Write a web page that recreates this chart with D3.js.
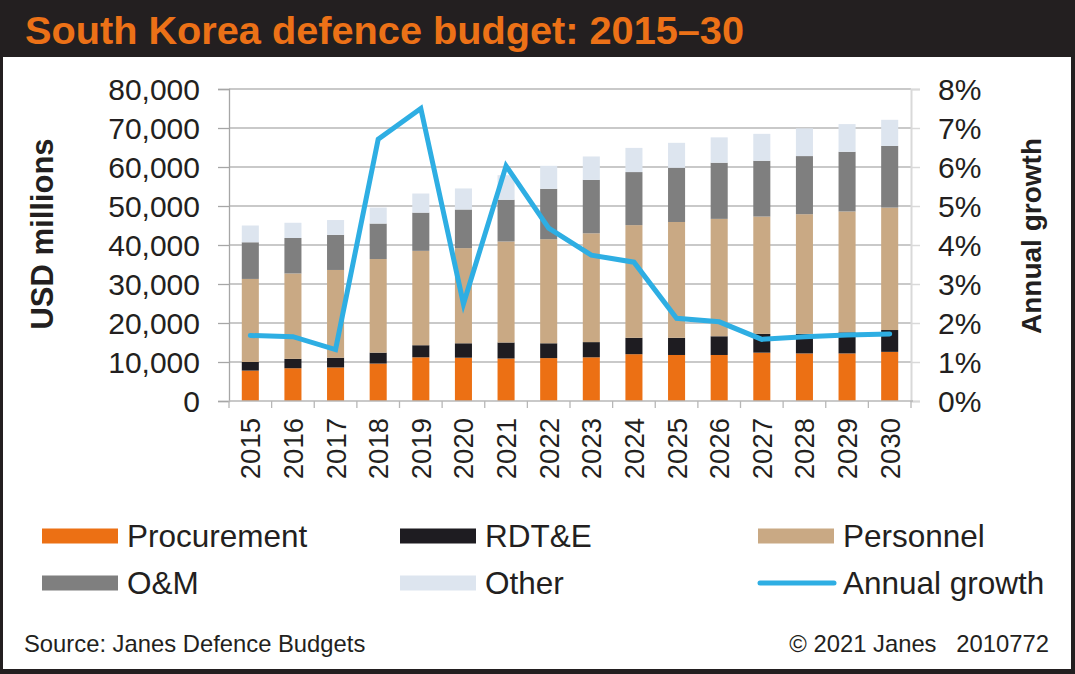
<!DOCTYPE html>
<html><head><meta charset="utf-8">
<script src="https://cdn.jsdelivr.net/npm/d3@7"></script>
<style>
html,body{margin:0;padding:0;background:#fff;}
svg{display:block;font-family:"Liberation Sans",Arial,Helvetica,sans-serif;}
</style></head>
<body>
<svg id="c" width="1075" height="674"></svg>
<script>
const years = ["2015","2016","2017","2018","2019","2020","2021","2022","2023","2024","2025","2026","2027","2028","2029","2030"];
const procurement = [7800,8400,8600,9600,11200,11100,10900,11000,11200,12000,11800,11800,12400,12200,12200,12600];
const rdte        = [2200,2400,2500,2800,3100,3700,4100,3800,3900,4200,4400,4800,4800,5000,5400,5600];
const personnel   = [21300,21900,22500,24000,24200,24400,25900,26700,27900,28900,29700,30100,30100,30700,31000,31400];
const om          = [9400,9100,9000,9100,9800,9900,10700,12900,13700,13600,13900,14400,14300,14900,15300,15800];
const other       = [4300,3900,3800,4100,4900,5400,6300,5900,6000,6200,6400,6500,6900,7100,7100,6700];
const growth      = [1.68,1.65,1.32,6.71,7.50,2.49,6.03,4.43,3.74,3.56,2.12,2.03,1.58,1.65,1.69,1.72];
const leftTicks   = [0,10000,20000,30000,40000,50000,60000,70000,80000];
const rightTicks  = [0,1,2,3,4,5,6,7,8];
const seriesNames = ["Procurement","RDT&E","Personnel","O&M","Other"];
const seriesColors= ["#ec7014","#1e1c21","#c9a984","#7f7f7f","#dde5ef"];
const lineColor   = "#2eaee3";
const title       = "South Korea defence budget: 2015\u201330";

const svg = d3.select("#c");
const W = 1075, H = 674;
const m = {left:229, right:911, top:89, bottom:401};

// frame
svg.append("rect").attr("x",0).attr("y",0).attr("width",W).attr("height",H).attr("fill","#231f20");
svg.append("rect").attr("x",3).attr("y",57).attr("width",W-7).attr("height",H-57-5).attr("fill","#fff");
svg.append("text").attr("x",25).attr("y",44).attr("fill","#ec7117")
  .attr("font-size",39.7).attr("font-weight","bold").text(title);

const table = years.map((y,i)=>({year:y, Procurement:procurement[i], "RDT&E":rdte[i], Personnel:personnel[i], "O&M":om[i], Other:other[i], growth:growth[i]}));
const stack = d3.stack().keys(seriesNames)(table);

const x = d3.scaleBand().domain(years).range([m.left,m.right]).paddingInner(0.6).paddingOuter(0.3);
const y = d3.scaleLinear().domain([0,80000]).range([m.bottom,m.top]);
const y2 = d3.scaleLinear().domain([0,8]).range([m.bottom,m.top]);

// gridlines
svg.append("g").selectAll("line").data(leftTicks.filter(d=>d>0)).join("line")
  .attr("x1",m.left).attr("x2",m.right).attr("y1",d=>y(d)).attr("y2",d=>y(d))
  .attr("stroke","#b7b7b7").attr("stroke-width",1.3);

// left axis
const gl = svg.append("g").attr("transform",`translate(${m.left},0)`)
  .call(d3.axisLeft(y).tickValues(leftTicks).tickSize(11).tickPadding(18).tickFormat(d3.format(",")));
gl.select(".domain").attr("stroke","#a6a6a6").attr("stroke-width",1.3);
gl.selectAll(".tick line").attr("stroke","#a6a6a6").attr("stroke-width",1.3);
gl.selectAll("text").attr("font-size",30).attr("fill","#231f20").attr("font-family",null).attr("dy","0.36em");

// right axis
const gr = svg.append("g").attr("transform",`translate(${m.right},0)`)
  .call(d3.axisRight(y2).tickValues(rightTicks).tickSize(9).tickPadding(18).tickFormat(d=>d+"%"));
gr.select(".domain").attr("stroke","#d9d9d9").attr("stroke-width",2);
gr.selectAll(".tick line").attr("stroke","#d9d9d9").attr("stroke-width",1.5);
gr.selectAll("text").attr("font-size",30).attr("fill","#231f20").attr("font-family",null).attr("dy","0.36em");

// bars
svg.append("g").selectAll("g").data(stack).join("g")
  .attr("fill",(d,i)=>seriesColors[i])
  .selectAll("rect").data(d=>d).join("rect")
  .attr("x",d=>x(d.data.year)).attr("width",x.bandwidth())
  .attr("y",d=>y(d[1])).attr("height",d=>y(d[0])-y(d[1]));

// bottom axis
const step = x.step();
const bx = svg.append("g");
bx.append("line").attr("x1",m.left).attr("x2",m.right+2).attr("y1",m.bottom).attr("y2",m.bottom)
  .attr("stroke","#b7b7b7").attr("stroke-width",1.5);
bx.selectAll("line.t").data(years.concat(["end"])).join("line").attr("class","t")
  .attr("x1",(d,i)=>m.left+i*step).attr("x2",(d,i)=>m.left+i*step)
  .attr("y1",m.bottom).attr("y2",m.bottom+7).attr("stroke","#b7b7b7").attr("stroke-width",1.3);
bx.selectAll("text").data(years).join("text")
  .attr("transform",d=>`translate(${x(d)+x.bandwidth()/2+10},418) rotate(-90)`)
  .attr("text-anchor","end").attr("font-size",27.5).attr("fill","#231f20").text(d=>d);

// growth line
const line = d3.line().x(d=>x(d.year)+x.bandwidth()/2).y(d=>y2(d.growth));
svg.append("path").datum(table).attr("d",line).attr("fill","none")
  .attr("stroke",lineColor).attr("stroke-width",5).attr("stroke-linejoin","miter").attr("stroke-linecap","round");

// axis titles
svg.append("text").attr("transform","translate(53,234) rotate(-90)").attr("text-anchor","middle")
  .attr("font-size",31).attr("font-weight","bold").attr("fill","#231f20").text("USD millions");
svg.append("text").attr("transform","translate(1041,236) rotate(-90)").attr("text-anchor","middle")
  .attr("font-size",28).attr("font-weight","bold").attr("fill","#231f20").text("Annual growth");

// legend
const legItems = [
  {name:"Procurement", c:seriesColors[0], x:42, y:536, t:"rect"},
  {name:"RDT&E", c:seriesColors[1], x:400, y:536, t:"rect"},
  {name:"Personnel", c:seriesColors[2], x:758, y:536, t:"rect"},
  {name:"O&M", c:seriesColors[3], x:42, y:583, t:"rect"},
  {name:"Other", c:seriesColors[4], x:400, y:583, t:"rect"},
  {name:"Annual growth", c:lineColor, x:758, y:583, t:"line"}
];
const lg = svg.append("g").selectAll("g").data(legItems).join("g");
lg.filter(d=>d.t==="rect").append("rect").attr("x",d=>d.x).attr("y",d=>d.y-7.5).attr("width",76).attr("height",15).attr("fill",d=>d.c);
lg.filter(d=>d.t==="line").append("line").attr("x1",d=>d.x+2).attr("x2",d=>d.x+76).attr("y1",d=>d.y).attr("y2",d=>d.y)
  .attr("stroke",d=>d.c).attr("stroke-width",5).attr("stroke-linecap","round");
lg.append("text").attr("x",d=>d.x+85).attr("y",d=>d.y+11).attr("font-size",31.5).attr("fill","#231f20").text(d=>d.name);

// footer
svg.append("text").attr("x",24).attr("y",652).attr("font-size",23.8).attr("fill","#231f20").text("Source: Janes Defence Budgets");
svg.append("text").attr("x",1049).attr("y",652).attr("text-anchor","end").attr("font-size",23.8).attr("fill","#231f20")
  .attr("xml:space","preserve").style("white-space","pre").text("\u00a9 2021 Janes   2010772");
</script>
</body></html>
